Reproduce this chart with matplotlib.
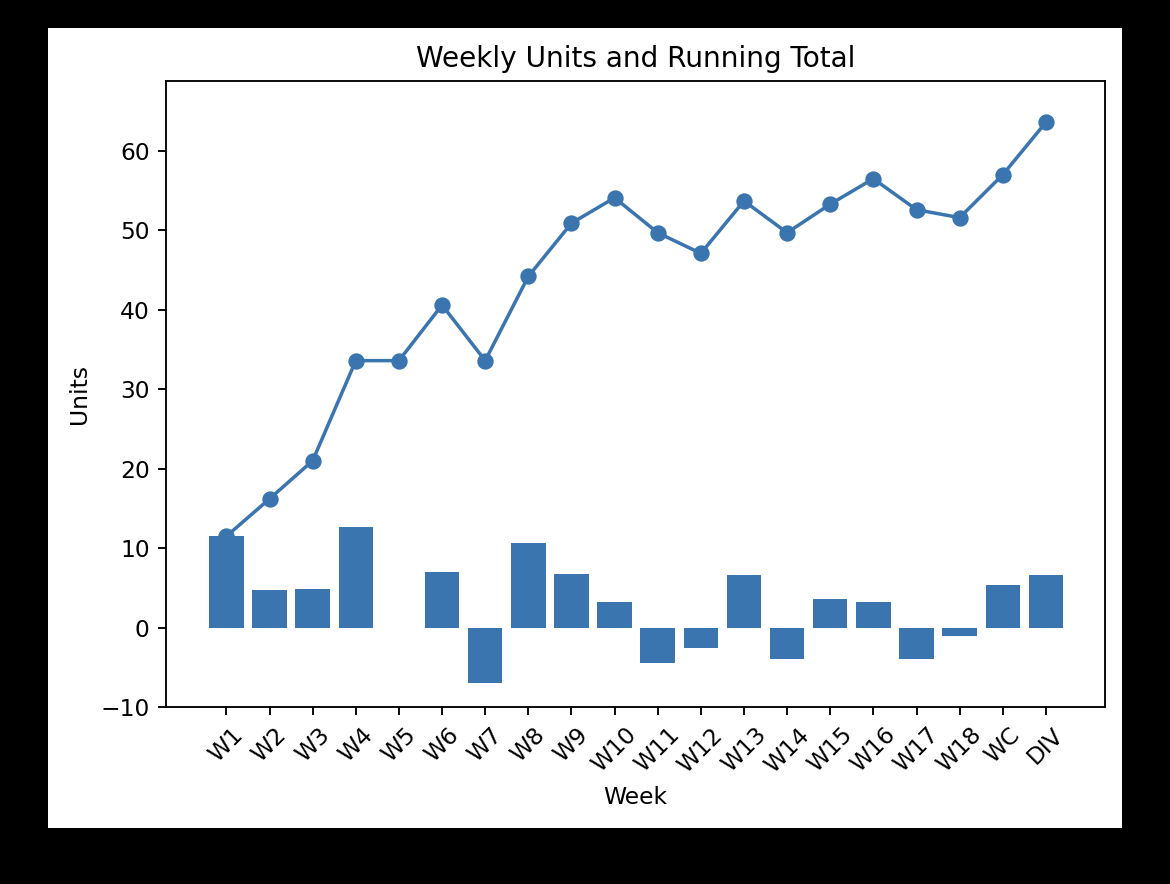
import numpy as np
import matplotlib
matplotlib.use("Agg")
from matplotlib import pyplot as plt
from matplotlib.patches import Rectangle

weeks = ["W1", "W2", "W3", "W4", "W5", "W6", "W7", "W8", "W9", "W10",
         "W11", "W12", "W13", "W14", "W15", "W16", "W17", "W18", "WC", "DIV"]
weekly_units = [11.5, 4.7, 4.8, 12.6, 0.0, 7.0, -7.0, 10.6, 6.7, 3.2,
                -4.4, -2.6, 6.6, -4.0, 3.6, 3.2, -3.9, -1.0, 5.4, 6.6]
running_total = [11.5, 16.2, 21.0, 33.6, 33.6, 40.6, 33.6, 44.2, 50.9, 54.1,
                 49.7, 47.1, 53.7, 49.7, 53.3, 56.5, 52.6, 51.6, 57.0, 63.6]

blue = "#3b75af"
W, H, DPI = 1170, 884, 168

fig = plt.figure(figsize=(W / DPI, H / DPI), dpi=DPI)
fig.patch.set_facecolor("black")
# white page inside the black frame, drawn under the axes
fig.patches.append(Rectangle((48 / W, 1 - 828 / H), (1122 - 48) / W, (828 - 28) / H,
                             transform=fig.transFigure, facecolor="white",
                             edgecolor="none", zorder=-10))

ax = fig.add_axes([166 / W, 1 - 707 / H, (1105 - 166) / W, (707 - 81) / H])
x = np.arange(len(weeks))
ax.bar(x, weekly_units, width=0.8, color=blue)
ax.plot(x, running_total, marker="o", color=blue)

ax.set_xticks(x)
ax.set_xticklabels(weeks, rotation=45)
ax.set_xlim(-1.4, 20.37)
ax.set_ylim(-10, 68.8)
ax.set_title("Weekly Units and Running Total")
ax.set_xlabel("Week")
ax.set_ylabel("Units")

fig.savefig("out.png", dpi=DPI, facecolor=fig.get_facecolor())
